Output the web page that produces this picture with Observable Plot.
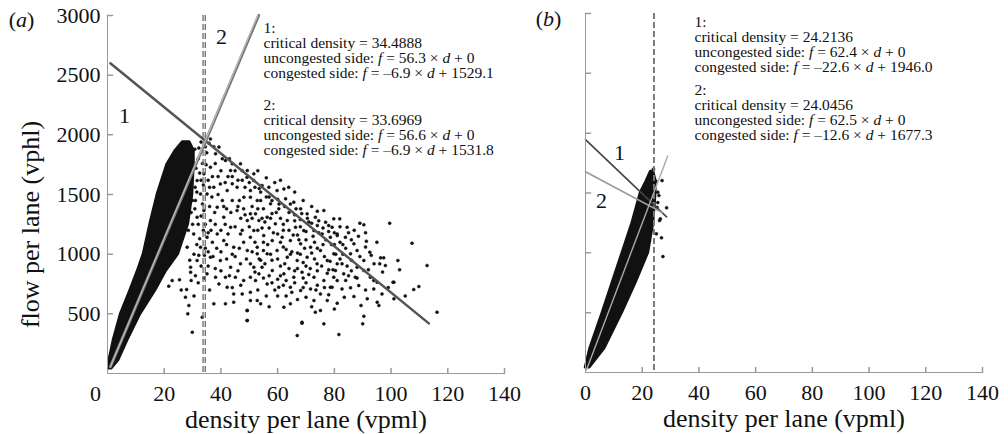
<!DOCTYPE html>
<html><head><meta charset="utf-8">
<script src="https://cdn.jsdelivr.net/npm/d3@7"></script>
<script src="https://cdn.jsdelivr.net/npm/@observablehq/plot@0.6"></script>
<style>
body{margin:0;background:#fff;}
#wrap{position:relative;width:1008px;height:434px;}
#wrap svg{position:absolute;top:0;overflow:visible;}
</style></head><body><div id="wrap"></div>
<script>
// ---------- data ----------
const xTicks = [0, 20, 40, 60, 80, 100, 120, 140];
const yTicks = [500, 1000, 1500, 2000, 2500, 3000];

// dense core of panel (a): for each flow, density range that is solid black
const coreAF  = [40, 109, 277, 494, 696, 850, 1000, 1249, 1500, 1751, 1869, 1940];
const coreALo = [0.5, 0.6, 2.1, 4.6, 8.0, 10.5, 12.7, 15.0, 17.6, 21.0, 24.0, 26.5];
const coreAHi = [1.5, 3.9, 7.1, 11.6, 17.0, 20.5, 25.0, 28.5, 30.0, 30.5, 30.5, 29.0];

// dense core of panel (b)
const coreBF  = [40, 200, 500, 750, 1000, 1250, 1500, 1600, 1680];
const coreBLo = [0.0, 1.6, 6.0, 9.5, 13.0, 16.5, 19.4, 21.5, 23.0];
const coreBHi = [1.5, 6.8, 13.0, 17.8, 22.2, 24.0, 24.8, 24.8, 24.0];

// scattered observations [density, flow], panel (a)
const pointsA = [
[36.3,1966],[39.3,1897],[38.1,1841],[41.6,1785],[44,1757],[46.9,1757],[49.3,1701],[51.6,1673],[43.4,1701],[36.3,1729],
[34,1673],[31.6,1617],[32.8,1505],[35.1,1505],[37.5,1561],[39.8,1589],[42.2,1533],[45.7,1561],[48.1,1478],[50.4,1533],
[52.8,1450],[44,1450],[38.7,1394],[34,1366],[31.6,1310],[36.3,1282],[41,1310],[45.7,1366],[49.3,1282],[52.2,1338],
[43.4,1226],[38.7,1170],[35.1,1142],[32.8,1059],[30.4,1170],[28.1,1059],[41,1114],[46.9,1170],[50.4,1142],[44.5,1059],
[49.3,1031],[52.8,1003],[36.3,975],[39.8,947],[43.4,891],[46.9,919],[51.6,891],[31.6,947],[29.3,891],[22.8,779],
[25.4,785],[21.6,732],[27.9,704],[29.3,849],[28.7,570],[28.3,500],[29.9,346],[33.4,472],[37.5,584],[41.6,584],
[44.5,598],[49.3,528],[49.3,444],[39.3,751],[42.2,723],[44.5,667],[47.5,667],[50.4,681],[52.8,612],[35.1,835],
[38.1,807],[41.6,807],[45.1,807],[50.4,807],[53.4,835],
[33,1940],[34.5,1900],[35,1850],[32,1800],[30.8,1880],[33.5,1760],[31.2,1720],[33,1620],[30.9,1560],[33.5,1420],
[31,1450],[32,1250],[33.8,1200],[30.5,1000],[34.5,1050],[33,900],[31,820],[36,1400],[37,1650],[40,1700],
[42.5,1650],[47.5,1620],[40.5,1450],[46.5,1450],[38,1250],[42,1380],[47,1300],[40,1020],[48,1100],[37,1100],
[45,980],[53,1200],[53.5,1550],[54.5,1300],[55,1100],[54,950],[36,700],[30.5,650],[38,880],[42,960],
[36,1560],[39,1500],[48,1380],[51,1400],[44,1590],[41.5,1250],[35.5,1020],[29.5,780],[27.5,640],[26,700],
[49.2,1645],[51.6,1617],[54.5,1575],[56.9,1561],[59.8,1533],[62.2,1547],[63.9,1561],[62.8,1464],[65.7,1436],[68.1,1380],
[70.4,1338],[73.3,1310],[76.3,1366],[76.9,1268],[79.2,1226],[81,1156],
[50.4,1478],[54,1450],[57.5,1422],[60.4,1380],[50.4,1338],[53.4,1282],[56.3,1310],[59.2,1254],[63.4,1282],[66.3,1226],
[69.2,1198],[72.8,1198],[75.7,1170],[78.6,1142],[51.6,1198],[55.1,1156],[58.1,1114],[61.6,1142],[64.5,1114],[68.1,1087],
[71.6,1059],[75.1,1031],[79.8,1003],[52.8,1059],[56.3,1003],[59.8,1031],[63.4,975],[66.9,947],[70.4,975],[73.9,919],
[77.5,947],[81,919],[50.4,919],[54.5,891],[58.1,863],[62.2,835],[65.7,807],[68.6,849],[72.8,807],[76.3,779],
[79.8,807],[52.2,779],[56.3,751],[60.4,723],[64.5,723],[68.1,695],[71.6,709],[75.1,667],[78.6,723],
[49.2,528],[50.4,612],[54,584],[62.2,556],[64.5,584],[72.8,612],[75.1,528],[77.5,612],[49.2,444],[68.6,430],
[73.3,514],[66.9,318],[76.3,416],[68.6,422],[57,560],[60,650],[70,640],
[57,1480],[60,1460],[66,1330],[68,1290],[71,1270],[74,1240],[55,1380],[58,1340],[61,1300],[64,1350],
[67,1160],[70,1120],[73,1100],[76,1080],[62,1200],[60,1170],[57,1220],[65,1020],[68,1000],[62,1060],
[58,950],[55,1030],[61,900],[64,880],[67,880],[70,900],[74,860],[78,870],[57,820],[60,790],
[66,760],[70,760],[74,740],[63,650],[67,620],[80,1080],[82,1100],[78,1190],[66,1520],[69,1450],
[72,1400],[74,1360],[59,1600],[61,1620],[53,1700],[56,1640],
[79.8,1296],[81.9,1296],[89,1260],[90.4,1246],[99.5,1260],[84.5,1226],[91.3,1109],[92.5,1017],[107.4,1092],[96.3,969],
[97.4,969],[96,919],[98,905],[102.4,947],[112.7,905],[101,765],[109.8,729],[108,704],[95.1,765],[93.9,709],
[96.8,667],[101,626],[95.1,598],[95.7,570],[91.6,626],[89.4,570],[90.4,480],[90,416],[116.2,514],[81.6,327],
[81,589],[86.9,645],[88.6,737],[85.7,718],[82.7,709],[87.4,807],[92.7,807],[90.4,863],[88,891],[85.7,1003],
[88,1031],[86.9,1087],[83.9,1142],[81,1170],[83.3,835],[80.4,863],[81,779],[79.2,723],[82.7,919],[90.4,947],
[93.9,779],[84,1050],[86,950],[83,1000],[85,1180],[87,1200],[82,1230],[84,780],[86,860],[89,980],
[91,1180],[100.7,765],
[28.5,1200],[29.5,1350],[30,1450],[31.5,1520],[32.5,1680],[33.8,1580],[35.5,1620],[34.8,1750],[32.2,1890],[29.8,1800],
[35.8,1930],[37.5,1900],[33,1320],[34.5,1250],[35.5,1180],[32.5,1130],[30,1250],[29,950],[31.5,1080],[34.2,990],
[35.5,900],[32.2,990],[30.8,1380],[36.8,1480],[37.8,1350],[36.5,1200],[38.5,1050],[37.2,980],[34,800],[32,760],
[38,1760],[40.5,1800],[43,1800],[45,1700],[47.5,1700],[39,1650],[41.5,1600],[44,1650],[46,1620],[48.5,1560],
[50,1600],[52,1560],[54,1520],[56,1480],[58,1450],[60.5,1420],[62.5,1400],[64.5,1420],[66.5,1380],[68.5,1340],
[70.5,1300],[72,1260],[74.5,1280],[76,1220],[78,1240],[80,1180],[41,1400],[43.5,1350],[46,1400],[48.5,1330],
[51,1300],[53,1380],[55.5,1270],[57.5,1300],[59.5,1350],[62,1250],[64,1200],[66,1280],[68,1230],[70,1190],
[72.5,1150],[74.5,1180],[77,1120],[79,1080],[40,1200],[42.5,1170],[45,1230],[47.5,1200],[50,1230],[52,1100],
[54.5,1220],[56.5,1080],[58.5,1180],[61,1100],[63,1040],[65.5,1160],[67.5,1120],[69.5,1050],[72,1010],[74,1050],
[76.5,980],[78.5,940],[42,1080],[44,1000],[46.5,1050],[49,960],[51,1020],[53.5,960],[55.5,920],[57.5,1000],
[60,960],[62.5,920],[64.5,1000],[67,1010],[69,930],[71.5,880],[73,960],[75.5,900],[77.5,840],[79.5,870],
[40,860],[43,820],[46,860],[48,780],[52,850],[55,800],[58,760],[61,820],[63,780],[66,860],
[69,800],[71,830],[73.5,700],[76.5,720],[78,660],[44,720],[47,740],[53,700],[56,650],[59,700],
[62,740],[65,680],[69,720],[72,560],[80,540],
[80.5,1000],[82,960],[84.5,900],[86,1120],[88.5,1150],[91,1060],[93,990],[95,1100],[83,1080],[85,820],
[88,800],[92,870],[94,920],[97,850],[99,720],[103,870],[105,650],[83.5,640],[91,700]
];

// scattered observations [density, flow], panel (b)
const pointsB = [
[27,1604],[25.5,1507],[25.9,1479],[28.6,1376],[26.4,1284],[26.8,1126],[27.3,969],[26.1,1270],[25,1159],[25.2,1380],
[24.8,1600],[25.5,1420],[24,1700],[23.5,1680]
];

// fitted lines (end points) and critical densities
const lineA1  = [[1, 2600], [113.3, 420]];
const lineAU1 = [[1, 56], [53.3, 3000]];
const lineAU2 = [[1, 57], [53.0, 3000]];
const critA   = [34.4888, 33.6969];
const lineB1  = [[0, 1946], [28.6, 1300]];
const lineB2  = [[0, 1677], [27.0, 1337]];
const lineBU  = [[0.3, 19], [29.0, 1810]];
const critB   = [24.2136, 24.0456];

const annA1 = ["1:", "critical density = 34.4888", "uncongested side: f = 56.3 × d + 0", "congested side: f = –6.9 × d + 1529.1"];
const annA2 = ["2:", "critical density = 33.6969", "uncongested side: f = 56.6 × d + 0", "congested side: f = –6.9 × d + 1531.8"];
const annB1 = ["1:", "critical density = 24.2136", "uncongested side: f = 62.4 × d + 0", "congested side: f = –22.6 × d + 1946.0"];
const annB2 = ["2:", "critical density = 24.0456", "uncongested side: f = 62.5 × d + 0", "congested side: f = –12.6 × d + 1677.3"];

const xTitle = "density per lane (vpml)";
const yTitle = "flow per lane (vphl)";

// ---------- drawing ----------
const FONT = "'Liberation Serif','Times New Roman',serif";
const AX = "#9a9a9a";
const tickShape = {draw(ctx, l) { ctx.moveTo(0, 0); ctx.lineTo(0, -l); }};
const core = (F, L, H) => F.map((f, i) => ({f, lo: L[i], hi: H[i]}));

function axisMarks(labelsY, zeroDx) {
  const m = [
    Plot.ruleY([0], {stroke: AX, strokeWidth: 1}),
    Plot.ruleX([0], {stroke: AX, strokeWidth: 1}),
    Plot.vector(xTicks.slice(1), {x: d => d, frameAnchor: "bottom", length: 5, anchor: "start", shape: tickShape, stroke: AX}),
    Plot.vector(yTicks, {y: d => d, frameAnchor: "left", length: 5, rotate: 90, anchor: "start", shape: tickShape, stroke: AX}),
    Plot.text(xTicks.slice(0, 1), {x: d => d, text: d => String(d), frameAnchor: "bottom", dy: 27, dx: zeroDx, lineAnchor: "bottom", fontSize: 22, fill: "#111"}),
    Plot.text(xTicks.slice(1), {x: d => d, text: d => String(d), frameAnchor: "bottom", dy: 27, lineAnchor: "bottom", fontSize: 22, fill: "#111"}),
    Plot.text([xTitle], {frameAnchor: "bottom", dy: 54, lineAnchor: "bottom", fontSize: 26, fill: "#111"})
  ];
  if (labelsY) m.push(Plot.text(yTicks, {y: d => d, text: d => String(d), frameAnchor: "left", dx: -7, textAnchor: "end", lineAnchor: "middle", fontSize: 22, fill: "#111"}));
  return m;
}
const ann = (lines, dx, dy) => Plot.text([lines.join("\n")], {frameAnchor: "top-left", dx, dy, textAnchor: "start", lineAnchor: "top", fontSize: 15.5, lineHeight: 0.97, fill: "#111"});
const lab = (t, dx, dy, size = 22) => Plot.text([t], {frameAnchor: "top-left", dx, dy, textAnchor: "middle", lineAnchor: "middle", fontSize: size, fill: "#111"});
const dots = (pts) => Plot.dot(pts, {x: d => d[0], y: d => d[1], r: 1.5, fill: "#111", stroke: "#111", strokeWidth: 0.5});

const common = {height: 434, x: {domain: [0, 140], axis: null}, y: {domain: [0, 3000], axis: null}, style: {fontFamily: FONT, background: "transparent", overflow: "visible"}};

const svgA = Plot.plot({
  ...common, width: 520, marginLeft: 107, marginRight: 16, marginTop: 15, marginBottom: 61,
  marks: [
    Plot.areaX(core(coreAF, coreALo, coreAHi), {y: "f", x1: "lo", x2: "hi", fill: "#111", stroke: "#111", strokeWidth: 2.5}),
    dots(pointsA),
    Plot.ruleX(critA, {stroke: "#777", strokeWidth: 1.4, strokeDasharray: "6,3"}),
    Plot.line(lineA1, {x: d => d[0], y: d => d[1], stroke: "#555", strokeWidth: 2.5}),
    Plot.line(lineAU1, {x: d => d[0], y: d => d[1], stroke: "#777", strokeWidth: 3}),
    Plot.line(lineAU2, {x: d => d[0], y: d => d[1], stroke: "#bdbdbd", strokeWidth: 1.2}),
    ...axisMarks(true, -12),
    Plot.text([yTitle], {frameAnchor: "left", dx: -77, dy: 30, rotate: -90, textAnchor: "middle", lineAnchor: "middle", fontSize: 26, fill: "#111"}),
    ann(annA1, 156, 7),
    ann(annA2, 156, 84),
    lab("1", 17, 100),
    lab("2", 114, 21),
    lab("(a)", -86, 4, 22)
  ]
});

const svgB = Plot.plot({
  ...common, width: 488, marginLeft: 65, marginRight: 26, marginTop: 13, marginBottom: 62,
  marks: [
    Plot.areaX(core(coreBF, coreBLo, coreBHi), {y: "f", x1: "lo", x2: "hi", fill: "#111", stroke: "#111", strokeWidth: 2.5}),
    dots(pointsB),
    Plot.ruleX(critB, {stroke: "#777", strokeWidth: 1.4, strokeDasharray: "6,3"}),
    Plot.line(lineB1, {x: d => d[0], y: d => d[1], stroke: "#444", strokeWidth: 1.6}),
    Plot.line(lineB2, {x: d => d[0], y: d => d[1], stroke: "#999", strokeWidth: 1.6}),
    Plot.line(lineBU, {x: d => d[0], y: d => d[1], stroke: "#aaa", strokeWidth: 1.4}),
    ...axisMarks(false, 0),
    ann(annB1, 109, 3),
    ann(annB2, 109, 71),
    lab("1", 34, 139),
    lab("2", 16, 187),
    lab("(b)", -37, 5, 22)
  ]
});

function italicize(svg) {
  const it = s => `<tspan font-style="italic">${s}</tspan>`;
  svg.querySelectorAll("text, tspan").forEach(el => {
    if (el.children.length) return;
    const t = el.textContent;
    const m = t.match(/^(.*side: )f( = .* × )d( .*)$/);
    if (m) el.innerHTML = m[1] + it("f") + m[2] + it("d") + m[3];
    else if (/^\((a|b)\)$/.test(t)) el.innerHTML = "(" + it(t[1]) + ")";
  });
}
italicize(svgA); italicize(svgB);
svgA.style.left = "0px";
svgB.style.left = "520px";
const wrap = document.getElementById("wrap");
wrap.appendChild(svgA);
wrap.appendChild(svgB);
</script></body></html>
